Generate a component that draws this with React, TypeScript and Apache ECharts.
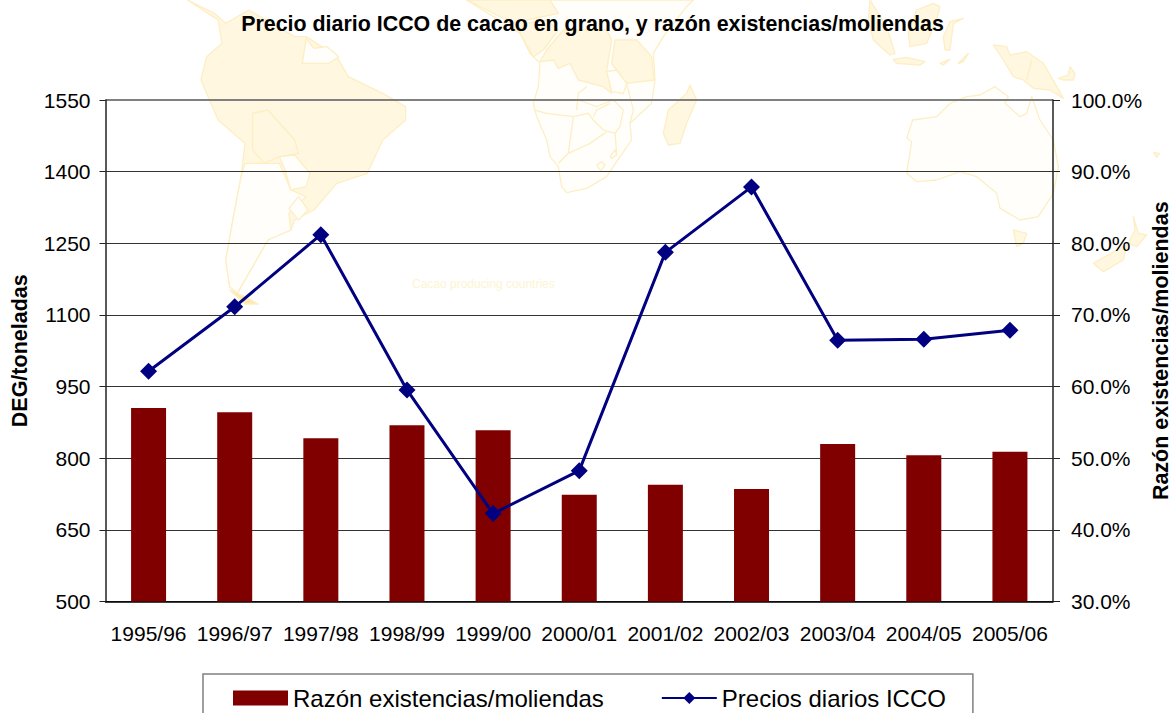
import React, { useEffect, useRef } from "react";
import * as echarts from "echarts";

const categories = ["1995/96", "1996/97", "1997/98", "1998/99", "1999/00", "2000/01", "2001/02", "2002/03", "2003/04", "2004/05", "2005/06"];
const ratioValues = [57.0, 56.4, 52.8, 54.6, 53.9, 44.9, 46.3, 45.7, 52.0, 50.4, 50.9];
const priceValues = [982, 1117, 1268, 943, 684, 774, 1231, 1368, 1047, 1049, 1068];
const ratioName = "Razón existencias/moliendas";
const priceName = "Precios diarios ICCO";
const titleText = "Precio diario ICCO de cacao en grano, y razón existencias/moliendas";
const FONT = "Liberation Sans";

const EDGE = "#fdeec4";
const FILL = "#fff7e0";
const PALE = "#fffefa";

type P = number[][];
const from = (pts: P, x0: number, sx: number, sy: number) => pts.map(([x, y]) => [x0 + x / sx, y / sy]);
const poly = (points: P, fill: string, stroke = EDGE) => ({
  type: "polygon", silent: true, z: -1,
  shape: { points },
  style: { fill, stroke, lineWidth: 1.3, lineJoin: "round" },
});
const line = (points: P) => ({
  type: "polyline", silent: true, z: -1,
  shape: { points },
  style: { fill: "none", stroke: EDGE, lineWidth: 1.3 },
});
const sa = (p: P) => from(p, 0, 2.613, 3);
const af = (p: P) => from(p, 430, 3, 3);
const oc = (p: P) => from(p, 730, 3, 3);

const mapShapes = [
  // South America
  poly(sa([[490, 0], [560, 40], [590, 70], [650, 30], [770, 110], [800, 110], [880, 170], [910, 230], [1000, 280], [1060, 320], [1060, 360], [1000, 420], [960, 520], [880, 550], [820, 630], [770, 660], [760, 690], [700, 720], [660, 800], [620, 880], [600, 860], [590, 780], [610, 650], [630, 530], [640, 430], [570, 360], [525, 240], [540, 170], [580, 130], [570, 60]]), FILL),
  poly(sa([[640, 490], [680, 490], [730, 490], [760, 570], [800, 590], [755, 640], [760, 690], [700, 720], [660, 800], [620, 880], [600, 860], [590, 780], [610, 650], [630, 530]]), PALE),
  poly(sa([[730, 470], [770, 465], [810, 520], [800, 560], [760, 570], [745, 510]]), PALE),
  poly(sa([[755, 625], [780, 590], [805, 630], [780, 660]]), PALE),
  poly(sa([[800, 115], [820, 145], [855, 140], [885, 170], [860, 190], [790, 190]]), PALE),
  poly(sa([[660, 340], [700, 330], [770, 420], [780, 460], [730, 470], [690, 490], [660, 450]]), FILL),
  poly(sa([[600, 870], [640, 890], [675, 912], [640, 912]]), "#fde9b0"),
  // Africa
  poly(af([[110, 0], [270, 100], [300, 160], [330, 190], [325, 260], [310, 310], [320, 350], [350, 420], [360, 470], [385, 500], [395, 560], [410, 578], [470, 565], [530, 530], [570, 470], [605, 420], [600, 370], [665, 310], [675, 240], [670, 160], [700, 110], [770, 20], [790, 0]]), PALE),
  poly(af([[110, 0], [360, 0], [385, 40], [290, 60], [270, 100], [230, 60]]), FILL),
  poly(af([[270, 100], [290, 70], [350, 60], [385, 90], [340, 150], [310, 170]]), FILL),
  poly(af([[330, 185], [370, 180], [385, 205], [420, 190], [445, 240], [520, 260], [545, 280], [530, 210], [545, 120], [530, 90], [400, 90], [350, 150]]), FILL),
  poly(af([[555, 120], [620, 120], [665, 170], [672, 240], [590, 250], [545, 190]]), FILL),
  poly(af([[530, 215], [560, 210], [590, 250], [580, 280], [545, 275]]), PALE),
  line(af([[312, 330], [350, 340], [430, 350], [475, 340], [490, 360], [520, 390], [555, 400], [560, 460]])),
  line(af([[430, 350], [415, 460], [385, 490]])),
  line(af([[415, 460], [480, 430], [530, 395]])),
  line(af([[440, 330], [445, 280], [470, 260]])),
  line(af([[445, 300], [500, 320], [550, 300], [580, 330], [570, 380], [555, 400]])),
  line(af([[590, 250], [610, 330], [600, 370]])),
  line(af([[490, 350], [500, 330], [540, 310]])),
  line(af([[540, 470], [555, 450], [560, 465], [545, 475], [540, 470]])),
  line(af([[500, 495], [515, 485], [525, 495], [512, 512], [500, 495]])),
  poly(af([[780, 255], [800, 300], [770, 370], [750, 430], [715, 435], [700, 400], [715, 330], [770, 280]]), FILL),
  // Asia-Pacific
  poly(oc([[420, 0], [470, 80], [495, 160], [480, 165], [430, 120], [415, 60]]), FILL),
  poly(oc([[490, 178], [530, 172], [585, 185], [570, 195], [500, 190]]), FILL),
  poly(oc([[560, 30], [610, 10], [630, 20], [620, 60], [590, 130], [540, 140], [535, 100]]), FILL),
  poly(oc([[700, 55], [670, 70], [660, 150], [645, 150], [640, 110], [660, 65]]), FILL),
  poly(oc([[685, 190], [715, 160], [700, 185]]), FILL),
  poly(oc([[630, 190], [660, 178], [640, 195]]), FILL),
  poly(oc([[790, 135], [830, 140], [840, 165], [890, 155], [940, 190], [975, 250], [1000, 295], [960, 270], [910, 265], [880, 240], [850, 230], [820, 180]]), FILL),
  line(oc([[905, 180], [890, 240]])),
  poly(oc([[985, 235], [1015, 225], [1020, 200], [1035, 220], [1030, 240], [1000, 240]]), FILL),
  poly(oc([[905, 290], [930, 360], [970, 420], [985, 500], [970, 580], [925, 650], [870, 660], [810, 625], [800, 580], [740, 530], [690, 515], [620, 540], [560, 545], [530, 520], [545, 425], [530, 415], [548, 360], [620, 350], [660, 310], [710, 290], [750, 285], [795, 260], [835, 290], [825, 310], [870, 350], [890, 340]]), PALE),
  poly(oc([[850, 690], [890, 700], [880, 730], [860, 740]]), FILL),
  poly(oc([[1090, 790], [1160, 750], [1190, 735], [1180, 780], [1120, 815]]), FILL),
  poly(oc([[1210, 650], [1225, 700], [1250, 705], [1220, 740], [1195, 730], [1215, 690]]), FILL),
  poly(oc([[1272, 458], [1288, 460], [1280, 472]]), FILL),
  {
    type: "text", silent: true, z: -1, x: 412, y: 278,
    style: { text: "Cacao producing countries", fill: "#fdf4d3", fontFamily: FONT, fontSize: 12 },
  },
];

export default function App() {
  const ref = useRef<HTMLDivElement>(null);
  useEffect(() => {
    const chart = echarts.init(ref.current!, undefined, { renderer: "svg" });
    chart.setOption({
      animation: false,
      backgroundColor: "#ffffff",
      textStyle: { fontFamily: FONT },
      title: {
        text: titleText,
        left: 587.5,
        top: 8,
        textAlign: "center",
        textStyle: { fontFamily: FONT, fontSize: 21.4, fontWeight: "bold", color: "#000" },
      },
      grid: { left: 105.5, top: 100, width: 947.5, height: 501.5, outerBoundsMode: "none" },
      legend: {
        left: 203,
        top: 674,
        orient: "horizontal",
        padding: [12, 27, 16, 30],
        itemWidth: 55,
        itemHeight: 15,
        itemGap: 57,
        borderColor: "#808080",
        borderWidth: 1.5,
        textStyle: { fontFamily: FONT, fontSize: 24, color: "#000" },
        data: [{ name: ratioName, icon: "rect" }, { name: priceName }],
      },
      xAxis: {
        type: "category",
        data: categories,
        axisLine: { lineStyle: { color: "#000", width: 1.5 } },
        axisTick: { alignWithLabel: false, length: 7, lineStyle: { color: "#222", width: 1 } },
        axisLabel: { fontFamily: FONT, fontSize: 21, color: "#000", margin: 21, interval: 0 },
      },
      yAxis: [
        {
          type: "value", min: 500, max: 1550, interval: 150,
          name: "DEG/toneladas", nameLocation: "middle", nameGap: 75, nameRotate: 90,
          nameTextStyle: { fontFamily: FONT, fontSize: 21.5, fontWeight: "bold", color: "#000" },
          axisLine: { show: true, lineStyle: { color: "#222", width: 1.5 } },
          axisTick: { show: true, length: 6, lineStyle: { color: "#222" } },
          axisLabel: { fontFamily: FONT, fontSize: 21, color: "#000", margin: 15, formatter: (v: number) => String(v) },
          splitLine: { show: true, lineStyle: { color: ["#333", "#333", "#333", "#333", "#333", "#333", "#333", "#808080"], width: 1 } },
        },
        {
          type: "value", min: 30, max: 100, interval: 10, position: "right",
          name: "Razón existencias/moliendas", nameLocation: "middle", nameGap: 97, nameRotate: 90, nameMoveOverlap: false,
          nameTextStyle: { fontFamily: FONT, fontSize: 21.5, fontWeight: "bold", color: "#000" },
          axisLine: { show: true, lineStyle: { color: "#222", width: 1.5 } },
          axisTick: { show: true, length: 7, lineStyle: { color: "#222" } },
          axisLabel: { fontFamily: FONT, fontSize: 21, color: "#000", margin: 18, formatter: (v: number) => `${v.toFixed(1)}%` },
          splitLine: {
            show: true,
            lineStyle: {
              color: ["transparent", "transparent", "transparent", "transparent", "transparent", "transparent", "transparent", "#808080"],
              width: 2,
            },
          },
        },
      ],
      series: [
        { name: ratioName, type: "bar", yAxisIndex: 1, data: ratioValues, barWidth: 35, itemStyle: { color: "#800000" } },
        {
          name: priceName, type: "line", yAxisIndex: 0, data: priceValues,
          symbol: "diamond", symbolSize: 17, showSymbol: true,
          lineStyle: { color: "#000080", width: 3 },
          itemStyle: { color: "#000080" },
          z: 5,
        },
      ],
      graphic: { elements: mapShapes },
    });
    return () => chart.dispose();
  }, []);
  return <div ref={ref} style={{ position: "fixed", left: 0, top: 0, width: 1173, height: 713, overflow: "hidden" }} />;
}
